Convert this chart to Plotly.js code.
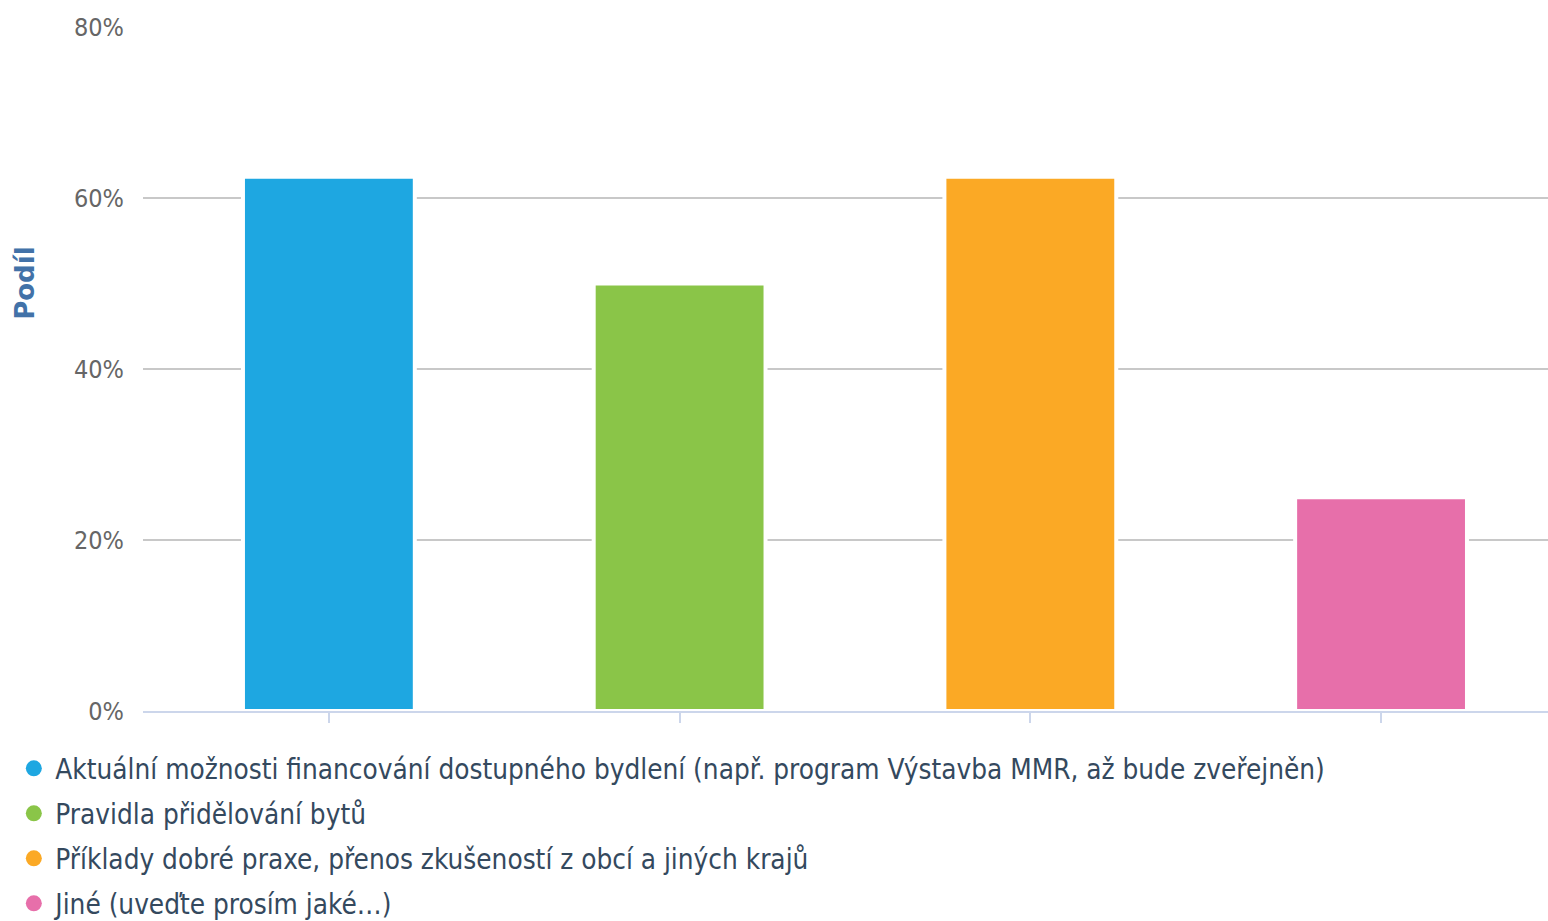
<!DOCTYPE html>
<html>
<head>
<meta charset="utf-8">
<script src="https://cdn.plot.ly/plotly-3.0.1.min.js"></script>
<style>
html,body{margin:0;padding:0;background:#fff;}
#chart{width:1548px;height:921px;}
</style>
</head>
<body>
<div id="chart"></div>
<script>
const categories = [
  "Aktuální možnosti financování dostupného bydlení (např. program Výstavba MMR, až bude zveřejněn)",
  "Pravidla přidělování bytů",
  "Příklady dobré praxe, přenos zkušeností z obcí a jiných krajů",
  "Jiné (uveďte prosím jaké...)"
];
const legendLabels = [
  "Aktuální možnosti financování dostupného bydlení (např. program Výstavba MMR, až bude zveřejněn)",
  "Pravidla přidělování bytů",
  "Příklady dobré praxe, přenos zkušeností z obcí a jiných krajů",
  "Jiné (uveďte prosím jaké…)"
];
const shares = [62.5, 50, 62.5, 25];
const colors = ["#1EA7E1", "#8AC548", "#FBA925", "#E76FAA"];
const yTicks = [0, 20, 40, 60, 80];
const yTickLabels = ["0%", "20%", "40%", "60%", "80%"];
const yTitle = "Podíl";

const traces = [{
  type: "bar",
  x: categories,
  y: shares,
  width: 0.49,
  marker: {color: colors, line: {color: "#ffffff", width: 4}},
  showlegend: false,
  hoverinfo: "x+y"
}];
legendLabels.forEach((lab, i) => {
  traces.push({
    type: "scatter",
    mode: "markers",
    x: [null],
    y: [null],
    name: lab,
    legendgroup: "g" + i,
    marker: {color: colors[i], size: 18, symbol: "circle"},
    showlegend: true
  });
});

const layout = {
  width: 1548,
  height: 921,
  margin: {l: 143, r: 0, t: 27, b: 210, pad: 0, autoexpand: false},
  paper_bgcolor: "#ffffff",
  plot_bgcolor: "#ffffff",
  font: {family: "DejaVu Sans Condensed, DejaVu Sans, sans-serif", color: "#666666"},
  xaxis: {
    type: "category",
    showticklabels: false,
    showgrid: false,
    zeroline: false,
    showline: true,
    linecolor: "#ccd6eb",
    linewidth: 2,
    ticks: "outside",
    ticklen: 10,
    tickwidth: 2,
    tickcolor: "#ccd6eb",
    range: [-0.530, 3.476],
    fixedrange: true
  },
  yaxis: {
    range: [0, 80],
    tickvals: yTicks,
    ticktext: yTickLabels,
    showgrid: true,
    gridcolor: "#c8c8c8",
    gridwidth: 2,
    zeroline: false,
    showline: false,
    ticks: "",
    ticklabelstandoff: 18,
    tickfont: {size: 25, color: "#666666", family: "DejaVu Sans Condensed, DejaVu Sans, sans-serif"},
    fixedrange: true
  },
  showlegend: true,
  legend: {
    x: -0.093,
    xanchor: "left",
    y: -0.048,
    yanchor: "top",
    orientation: "v",
    tracegroupgap: 6,
    itemwidth: 33,
    font: {size: 27.7, color: "#34495e", family: "DejaVu Sans Condensed, DejaVu Sans, sans-serif"},
    bgcolor: "rgba(0,0,0,0)"
  },
  annotations: [{
    text: "<b>" + yTitle + "</b>",
    xref: "paper", yref: "paper",
    x: -0.084, y: 0.626,
    xanchor: "center", yanchor: "middle",
    textangle: -90,
    showarrow: false,
    font: {size: 26, color: "#4272a8", family: "DejaVu Sans, sans-serif"}
  }]
};

Plotly.newPlot("chart", traces, layout, {displayModeBar: false, staticPlot: true});
</script>
</body>
</html>
